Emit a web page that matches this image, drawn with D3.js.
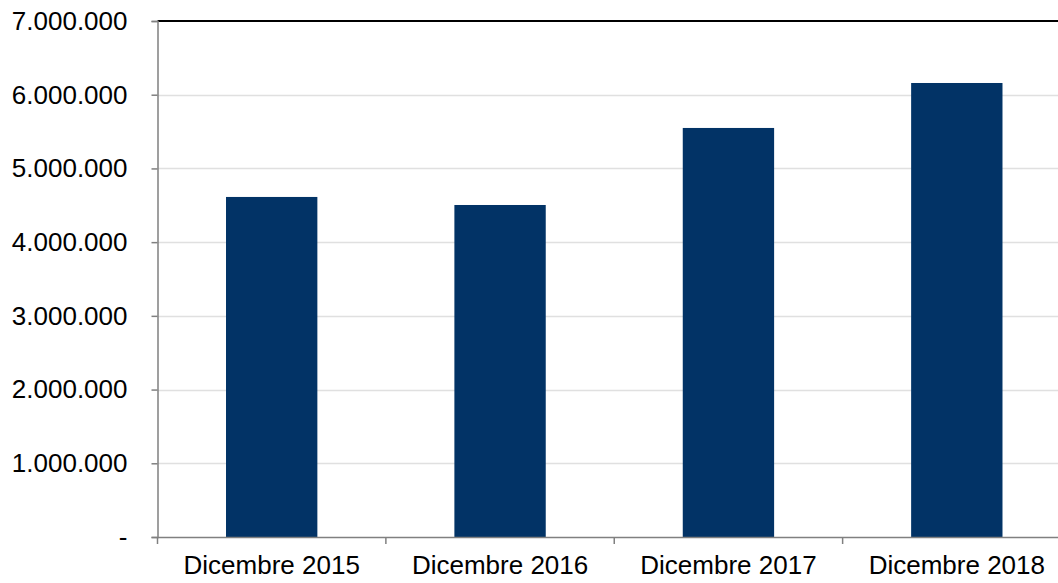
<!DOCTYPE html>
<html>
<head>
<meta charset="utf-8">
<script src="https://cdn.jsdelivr.net/npm/d3@7"></script>
<style>
  body { margin: 0; background: #fff; }
  svg text { font-family: "Liberation Sans", Arial, sans-serif; fill: #000; }
</style>
</head>
<body>
<svg id="chart" width="1058" height="583"></svg>
<script>
(function() {
    var width = 1058, height = 583

    // data
    const categories = ["Dicembre 2015", "Dicembre 2016", "Dicembre 2017", "Dicembre 2018"];
    const values = [4613000, 4504000, 5549000, 6159000];
    const yTicks = [0, 1000000, 2000000, 3000000, 4000000, 5000000, 6000000, 7000000];

    const left = 157.5, right = 1071, top = 21, bottom = 537;

    const svg = d3.select("#chart");

    let x = d3.scaleBand()
    .domain(categories)
    .range([left, right])
    .padding(0);

    let y = d3.scaleLinear()
    .domain([0, 7000000])
    .range([bottom, top]);

    const fmt = (v) => v === 0 ? "-" : d3.format(",")(v).replace(/,/g, ".");

    // gridlines
    svg.append("g")
    .selectAll("line")
    .data(yTicks.filter(d => d > 0 && d < 7000000))
    .join("line")
    .attr("x1", left)
    .attr("x2", width)
    .attr("y1", d => Math.round(y(d)) + 0.5)
    .attr("y2", d => Math.round(y(d)) + 0.5)
    .attr("stroke", "#e0e0e0")
    .attr("stroke-width", 1.5);

    // bars
    const barW = x.bandwidth() * 0.4;
    svg.append("g")
    .selectAll("rect")
    .data(categories)
    .join("rect")
    .attr("x", (d) => x(d) + (x.bandwidth() - barW) / 2)
    .attr("y", (d, i) => y(values[i]))
    .attr("width", barW)
    .attr("height", (d, i) => y(0) - y(values[i]))
    .attr("fill", "#023366");

    // top border
    svg.append("line")
    .attr("x1", left)
    .attr("x2", width)
    .attr("y1", top)
    .attr("y2", top)
    .attr("stroke", "#000")
    .attr("stroke-width", 2);

    // y axis
    let yAxis = svg.append("g")
    .attr("transform", `translate(${left},0)`)
    .call(d3.axisLeft(y).tickValues(yTicks).tickSize(6).tickPadding(24).tickFormat(fmt));
    yAxis.select(".domain").attr("stroke", "#808080").attr("stroke-width", 1.5);
    yAxis.selectAll(".tick line").attr("stroke", "#808080").attr("stroke-width", 1.5);
    yAxis.selectAll(".tick text").attr("font-size", "26px").style("font-family", "Liberation Sans, Arial, sans-serif");

    // x axis
    let xAxis = svg.append("g")
    .attr("transform", `translate(0,${bottom})`)
    .call(d3.axisBottom(x).tickSize(0).tickPadding(19));
    xAxis.select(".domain").attr("stroke", "#808080").attr("stroke-width", 1.5);
    xAxis.selectAll(".tick text").attr("font-size", "26px").style("font-family", "Liberation Sans, Arial, sans-serif");

    // category separators
    svg.append("g")
    .selectAll("line")
    .data(categories)
    .join("line")
    .attr("x1", d => x(d))
    .attr("x2", d => x(d))
    .attr("y1", bottom)
    .attr("y2", bottom + 7)
    .attr("stroke", "#808080")
    .attr("stroke-width", 1.5);
})()
</script>
</body>
</html>
